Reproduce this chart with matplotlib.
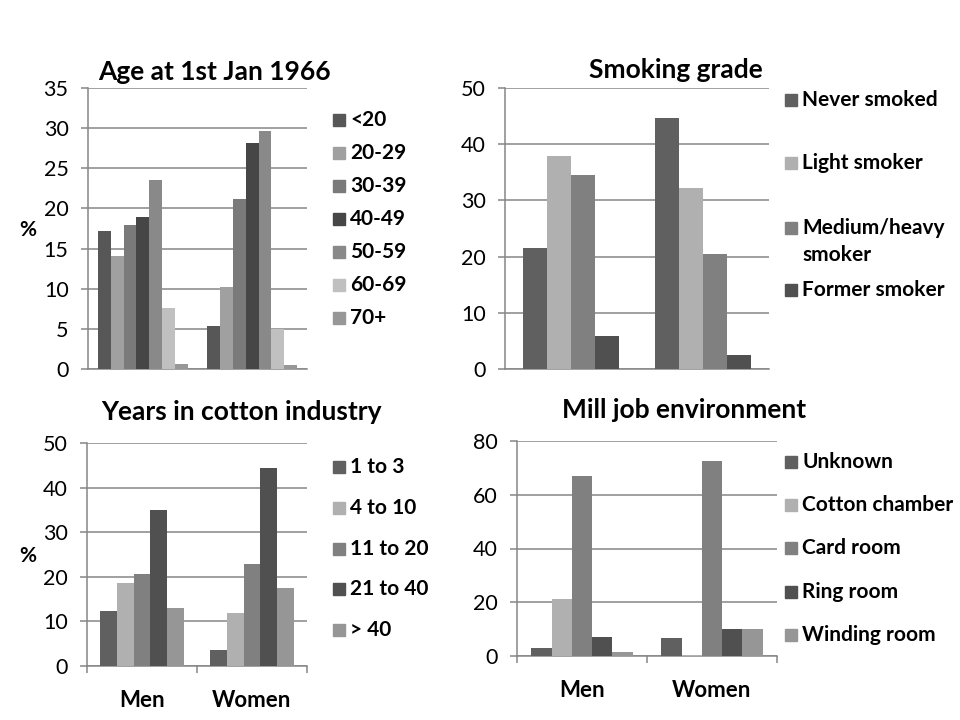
import matplotlib
matplotlib.use('Agg')
import matplotlib.pyplot as plt
from matplotlib.patches import Rectangle
import numpy as np

plt.rcParams['font.family'] = ['Lato', 'DejaVu Sans']

groups = ['Men', 'Women']

# Age at 1st Jan 1966 (%)
age_labels = ['<20', '20-29', '30-39', '40-49', '50-59', '60-69', '70+']
age_men = [17.2, 14.1, 17.9, 18.9, 23.6, 7.6, 0.6]
age_women = [5.4, 10.2, 21.2, 28.1, 29.7, 5.0, 0.5]
age_colors = ['#575757', '#a0a0a0', '#7a7a7a', '#464646', '#898989', '#c0c0c0', '#979797']

# Smoking grade (%)
smoke_labels = ['Never smoked', 'Light smoker', 'Medium/heavy\nsmoker', 'Former smoker']
smoke_men = [21.6, 37.9, 34.6, 5.9]
smoke_women = [44.7, 32.2, 20.5, 2.5]
smoke_colors = ['#606060', '#b0b0b0', '#808080', '#505050']

# Years in cotton industry (%)
years_labels = ['1 to 3', '4 to 10', '11 to 20', '21 to 40', '> 40']
years_men = [12.4, 18.5, 20.7, 35.0, 13.1]
years_women = [3.6, 11.8, 22.8, 44.3, 17.4]
years_colors = ['#606060', '#b0b0b0', '#808080', '#505050', '#969696']

# Mill job environment (%)
mill_labels = ['Unknown', 'Cotton chamber', 'Card room', 'Ring room', 'Winding room']
mill_men = [3.1, 21.3, 66.9, 7.2, 1.6]
mill_women = [6.8, 0.5, 72.4, 10.1, 10.1]
mill_colors = ['#606060', '#b0b0b0', '#808080', '#505050', '#969696']

W, H = 960, 720
fig = plt.figure(figsize=(9.6, 7.2), dpi=100)
GRID = '#868686'
LEG_FS = 15


def px(x, y):
    return x / W, 1 - y / H


def make_axes(left, top, right, bottom):
    return fig.add_axes([left / W, 1 - bottom / H, (right - left) / W, (bottom - top) / H])


def draw_bars(ax, men, women, colors, group_w, ymax, step, bottom_labels):
    n = len(colors)
    bw = group_w / n
    x = np.arange(len(groups))
    for i in range(n):
        vals = [men[i], women[i]]
        ax.bar(x - group_w / 2 + bw * (i + 0.5), vals, width=bw, color=colors[i], zorder=3)
    ax.set_xlim(-0.5, 1.5)
    ax.set_ylim(0, ymax)
    ax.set_yticks(np.arange(0, ymax + 1, step))
    ax.grid(axis='y', color=GRID, linewidth=1.1, zorder=0)
    for s in ['top', 'right']:
        ax.spines[s].set_visible(False)
    for s in ['left', 'bottom']:
        ax.spines[s].set_color(GRID)
        ax.spines[s].set_linewidth(1.1)
    ax.tick_params(axis='y', colors=GRID, length=5, width=1.1, pad=9,
                   labelcolor='black', labelsize=15.5)
    if bottom_labels:
        ax.set_xticks(x)
        ax.set_xticklabels(groups, fontsize=16, fontweight='bold')
        ax.tick_params(axis='x', which='major', length=0, pad=17)
        ax.set_xticks([-0.5, 0.5, 1.5], minor=True)
        ax.tick_params(axis='x', which='minor', length=5, width=1.1, color=GRID)
    else:
        ax.set_xticks([])


def legend(xsq, xtxt, ys, labels, colors, size=12):
    for y, lab, c in zip(ys, labels, colors):
        fig.patches.append(Rectangle(px(xsq, y + size / 2), size / W, size / H,
                                     transform=fig.transFigure, color=c))
        for k, line in enumerate(lab.split('\n')):
            fig.text(*px(xtxt, y + 27 * k), line, fontsize=LEG_FS, fontweight='bold',
                     va='center', ha='left')


ax1 = make_axes(88, 88, 307, 369)
draw_bars(ax1, age_men, age_women, age_colors, 0.82, 35, 5, False)
fig.text(*px(214, 72), 'Age at 1st Jan 1966', fontsize=19, fontweight='bold', ha='center', va='center')
fig.text(*px(28, 230), '%', fontsize=15, fontweight='bold', ha='center', va='center')
legend(333, 350, [120 + 33 * i for i in range(7)], age_labels, age_colors)

ax2 = make_axes(505, 88, 769, 369)
draw_bars(ax2, smoke_men, smoke_women, smoke_colors, 0.73, 50, 10, False)
fig.text(*px(676, 70), 'Smoking grade', fontsize=19, fontweight='bold', ha='center', va='center')
legend(785, 802, [100, 163, 228, 290], smoke_labels, smoke_colors)

ax3 = make_axes(87, 443, 307, 666)
draw_bars(ax3, years_men, years_women, years_colors, 0.76, 50, 10, True)
fig.text(*px(241, 412), 'Years in cotton industry', fontsize=19, fontweight='bold', ha='center', va='center')
fig.text(*px(28, 556), '%', fontsize=15, fontweight='bold', ha='center', va='center')
legend(333, 350, [467, 508, 549, 589, 630], years_labels, years_colors)

ax4 = make_axes(517, 441, 777, 656)
draw_bars(ax4, mill_men, mill_women, mill_colors, 0.78, 80, 20, True)
fig.text(*px(684, 410), 'Mill job environment', fontsize=19, fontweight='bold', ha='center', va='center')
legend(785, 802, [462, 505, 548, 592, 635], mill_labels, mill_colors)

fig.savefig('out.png', dpi=100, facecolor='white')
